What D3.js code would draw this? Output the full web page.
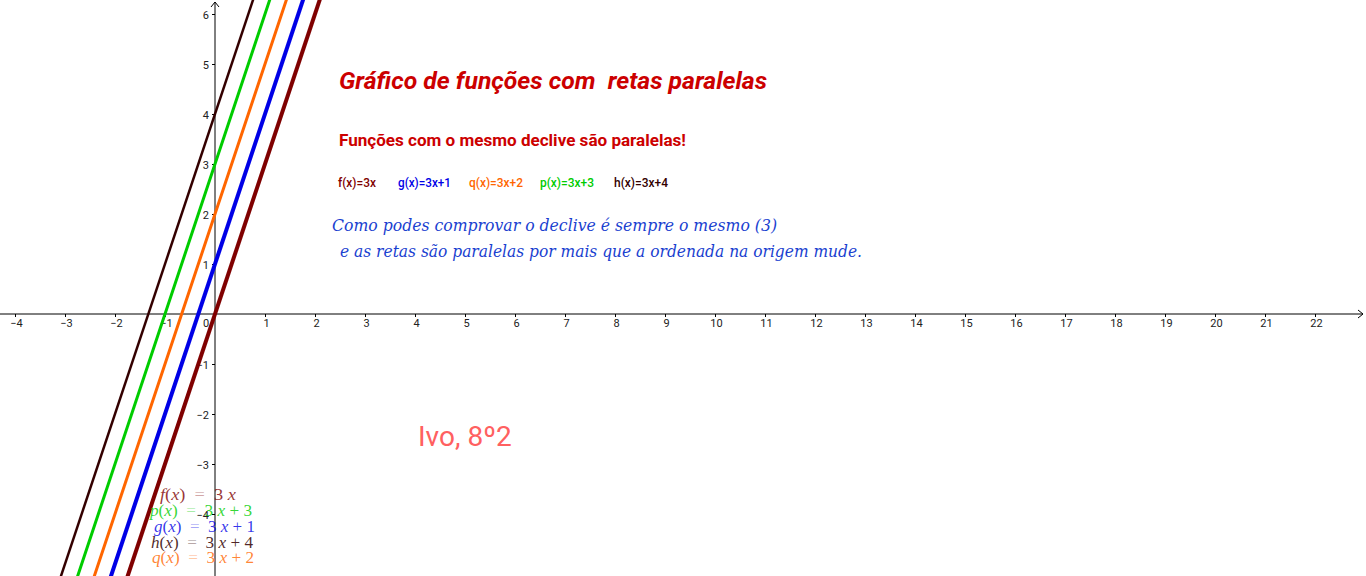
<!DOCTYPE html>
<html><head><meta charset="utf-8">
<script src="https://cdn.jsdelivr.net/npm/d3@7"></script>
<style>html,body{margin:0;padding:0;background:#fff;overflow:hidden}svg{display:block}</style>
</head><body>
<svg id="chart" width="1366" height="576"></svg>
<script>
// ---- data ----
const functionNames = ["f", "g", "q", "p", "h"];
const slopes = [3, 3, 3, 3, 3];
const intercepts = [0, 1, 2, 3, 4];
const xTickValues = [-4,-3,-2,-1,1,2,3,4,5,6,7,8,9,10,11,12,13,14,15,16,17,18,19,20,21,22];
const yTickValues = [-4,-3,-2,-1,1,2,3,4,5,6];
const legendLabels = ["f(x)=3x", "g(x)=3x+1", "q(x)=3x+2", "p(x)=3x+3", "h(x)=3x+4"];
const bottomOrder = ["f", "p", "g", "h", "q"];
const titleText = "Gráfico de funções com  retas paralelas";
const subtitleText = "Funções com o mesmo declive são paralelas!";
const noteLines = ["Como podes comprovar o declive é sempre o mesmo (3)", " e as retas são paralelas por mais que a ordenada na origem mude."];
const authorText = "Ivo, 8º2";

// ---- styles ----
const colors = {f: "#7f0000", g: "#0000e6", q: "#ff6600", p: "#00cc00", h: "#330000"};
const widths = {f: 4, g: 4, q: 3, p: 3, h: 2.5};
const W = 1366, H = 576;

const svg = d3.select("#chart");
const x = d3.scaleLinear().domain([-4.3, 23.02]).range([0, W]);
const y = d3.scaleLinear().domain([6.28, -5.24]).range([0, H]);
const x0 = x(0), y0 = y(0);

// axes
const minus = v => (v < 0 ? "\u2212" + Math.abs(v) : String(v));
const gx = svg.append("g").attr("transform", `translate(0,${y0})`)
  .call(d3.axisBottom(x).tickValues(xTickValues).tickSizeInner(3).tickSizeOuter(0).tickFormat(minus));
gx.select(".domain").remove();
gx.selectAll(".tick line").attr("stroke", "#000");
gx.selectAll(".tick text").attr("y", 13).attr("dy", 0).attr("dx", 1)
  .style("font-family", "Roboto, sans-serif").style("font-size", "11px").attr("fill", "#222");

const gy = svg.append("g").attr("transform", `translate(${x0},0)`)
  .call(d3.axisLeft(y).tickValues(yTickValues).tickSizeInner(3).tickSizeOuter(0).tickFormat(minus));
gy.select(".domain").remove();
gy.selectAll(".tick line").attr("stroke", "#000");
gy.selectAll(".tick text").attr("x", -6).attr("dy", "0.42em")
  .style("font-family", "Roboto, sans-serif").style("font-size", "11px").attr("fill", "#222");

svg.append("text").attr("x", x0 - 9).attr("y", y0 + 13).attr("text-anchor", "middle")
  .style("font-family", "Roboto, sans-serif").style("font-size", "11px").attr("fill", "#222").text("0");

// axis lines + arrows
svg.append("line").attr("x1", 0).attr("x2", W - 3).attr("y1", y0).attr("y2", y0).attr("stroke", "#000").attr("stroke-width", 1);
svg.append("path").attr("d", `M${W-8},${y0-4}L${W-3},${y0}L${W-8},${y0+4}`).attr("fill", "none").attr("stroke", "#000");
svg.append("line").attr("x1", x0).attr("x2", x0).attr("y1", 2).attr("y2", H).attr("stroke", "#000").attr("stroke-width", 1);
svg.append("path").attr("d", `M${x0-4},${7}L${x0},${2}L${x0+4},${7}`).attr("fill", "none").attr("stroke", "#000");

// function lines
const xDom = x.domain();
const lineGen = d3.line().x(d => x(d[0])).y(d => y(d[1]));
svg.append("defs").append("clipPath").attr("id", "clip").append("rect").attr("width", W).attr("height", H);
const lineData = functionNames.map((n, i) => ({name: n, pts: xDom.map(xv => [xv, slopes[i] * xv + intercepts[i]])}));
svg.append("g").attr("clip-path", "url(#clip)").selectAll("path").data(lineData).join("path")
  .attr("d", d => lineGen(d.pts)).attr("fill", "none")
  .attr("stroke", d => colors[d.name]).attr("stroke-width", d => widths[d.name]);

// texts
function fit(sel, len) { sel.attr("textLength", len).attr("lengthAdjust", "spacingAndGlyphs"); return sel; }
fit(svg.append("text").attr("x", 339).attr("y", 89).attr("xml:space", "preserve").style("white-space", "pre")
  .style("font-family", "Roboto, sans-serif").style("font-size", "24px").style("font-weight", "bold").style("font-style", "italic")
  .attr("fill", "#cc0000").text(titleText), 428);
fit(svg.append("text").attr("x", 339).attr("y", 146)
  .style("font-family", "Roboto, sans-serif").style("font-size", "17px").style("font-weight", "bold")
  .attr("fill", "#cc0000").text(subtitleText), 347);

const legendX = [338, 398, 469, 540, 614];
const legendW = [38, 53, 54, 54, 54];
legendLabels.forEach((t, i) => {
  fit(svg.append("text").attr("x", legendX[i]).attr("y", 187)
    .style("font-family", "Roboto, sans-serif").style("font-size", "13px").style("font-weight", 500)
    .attr("fill", colors[functionNames[i]]).text(t), legendW[i]);
});

const noteX = [332, 340], noteY = [231, 257], noteW = [445, 522];
noteLines.forEach((t, i) => {
  fit(svg.append("text").attr("x", noteX[i]).attr("y", noteY[i])
    .style("font-family", "'DejaVu Serif', serif").style("font-size", "16px").style("font-style", "italic")
    .attr("fill", "#1a3fd0").text(t.trim()), noteW[i]);
});

svg.append("text").attr("x", 418).attr("y", 446)
  .style("font-family", "Roboto, sans-serif").style("font-size", "28px")
  .attr("fill", "#ff6060").text(authorText);

// bottom formula labels
const bX = [160, 150, 154, 151, 152], bY = [500, 516, 532, 548, 563], bW = [76, 102, 101, 102, 102];
bottomOrder.forEach((n, i) => {
  const idx = functionNames.indexOf(n);
  const b = intercepts[idx];
  const t = svg.append("text").attr("x", bX[i]).attr("y", bY[i]).attr("xml:space", "preserve").style("white-space", "pre")
    .style("font-family", "'Liberation Serif', serif").style("font-size", "16px").attr("fill", colors[n]);
  t.append("tspan").style("font-style", "italic").text(n);
  t.append("tspan").text("(");
  t.append("tspan").style("font-style", "italic").text("x");
  t.append("tspan").text(")  ");
  t.append("tspan").attr("fill-opacity", 0.35).text("=");
  t.append("tspan").text("  " + slopes[idx] + " ");
  t.append("tspan").style("font-style", "italic").text("x");
  if (b !== 0) t.append("tspan").text(" + " + b);
  t.attr("fill-opacity", n === "h" ? 0.85 : 0.8);
  fit(t, bW[i]);
});
</script>
</body></html>
